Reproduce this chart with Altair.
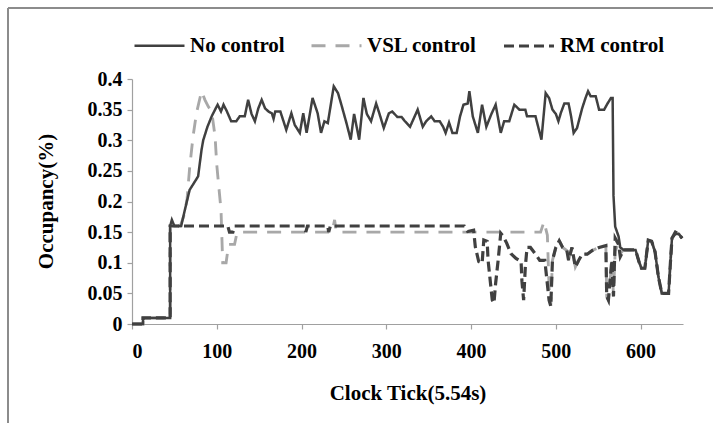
import altair as alt
import pandas as pd

# ---- data ----
nc_x = [0, 13, 13, 45, 45, 47, 50, 58, 63, 68, 73, 78, 82, 84, 89, 94, 98, 101, 105, 108, 112, 117, 123, 127,
        133, 137, 141, 145, 149, 153, 157, 161, 165, 167, 169, 175, 182, 188, 192, 198, 202, 206, 213, 219,
        223, 227, 231, 238, 243, 247, 253, 258, 262, 268, 273, 277, 282, 288, 292, 297, 303, 307, 313, 318,
        322, 328, 337, 343, 347, 353, 357, 363, 367, 370, 374, 378, 383, 387, 391, 396, 398, 402, 408, 413,
        418, 424, 429, 435, 439, 445, 451, 457, 464, 466, 476, 483, 488, 492, 496, 500, 503, 506, 510, 515,
        518, 521, 525, 531, 535, 538, 541, 547, 551, 557, 561, 565, 567, 568, 570, 574, 576, 580, 586, 594,
        598, 601, 605, 609, 613, 617, 621, 625, 633, 635, 637, 641, 645, 649]
nc_y = [0, 0, 0.01, 0.01, 0.16, 0.17, 0.16, 0.16, 0.19, 0.219, 0.23, 0.241, 0.284, 0.30, 0.322, 0.339, 0.35,
        0.358, 0.347, 0.358, 0.347, 0.331, 0.331, 0.339, 0.339, 0.366, 0.343, 0.331, 0.352, 0.366, 0.352,
        0.347, 0.344, 0.335, 0.347, 0.347, 0.317, 0.344, 0.325, 0.312, 0.344, 0.312, 0.369, 0.344, 0.312,
        0.331, 0.328, 0.388, 0.377, 0.358, 0.328, 0.301, 0.343, 0.301, 0.369, 0.343, 0.331, 0.36, 0.343,
        0.32, 0.344, 0.347, 0.338, 0.338, 0.331, 0.322, 0.35, 0.322, 0.331, 0.339, 0.331, 0.331, 0.322,
        0.312, 0.329, 0.312, 0.312, 0.339, 0.358, 0.36, 0.38, 0.339, 0.312, 0.358, 0.322, 0.343, 0.358,
        0.312, 0.331, 0.331, 0.358, 0.35, 0.35, 0.339, 0.339, 0.301, 0.377, 0.369, 0.35, 0.343, 0.331,
        0.345, 0.36, 0.36, 0.339, 0.312, 0.32, 0.352, 0.369, 0.38, 0.372, 0.372, 0.35, 0.35, 0.36, 0.369,
        0.369, 0.21, 0.159, 0.143, 0.125, 0.121, 0.121, 0.121, 0.102, 0.091, 0.091, 0.137, 0.135, 0.118,
        0.077, 0.05, 0.05, 0.097, 0.14, 0.147, 0.147, 0.14]

vsl_x = [0, 13, 13, 45, 45, 57, 62, 65, 68, 72, 76, 82, 86, 90, 94, 98, 100, 102, 105, 107, 111, 114, 121,
         124, 236, 239, 241, 482, 486, 490, 492, 494, 496, 500, 504, 508, 513, 515, 519, 523, 527, 531, 537,
         543, 551, 559, 560, 562, 566, 568, 570, 574, 576, 580, 586, 594, 598, 601, 605, 609, 613, 617, 621,
         625, 633, 635, 637, 641, 645, 649]
vsl_y = [0, 0, 0.01, 0.01, 0.16, 0.16, 0.18, 0.205, 0.255, 0.306, 0.344, 0.38, 0.366, 0.355, 0.347, 0.306,
         0.26, 0.23, 0.186, 0.1, 0.1, 0.13, 0.13, 0.15, 0.15, 0.17, 0.15, 0.15, 0.167, 0.145, 0.06, 0.03,
         0.104, 0.125, 0.136, 0.125, 0.12, 0.104, 0.125, 0.093, 0.104, 0.114, 0.114, 0.12, 0.125, 0.128,
         0.045, 0.039, 0.104, 0.045, 0.12, 0.13, 0.115, 0.121, 0.121, 0.121, 0.102, 0.091, 0.091, 0.137,
         0.135, 0.118, 0.077, 0.05, 0.05, 0.097, 0.14, 0.15, 0.147, 0.14]

rm_x = [0, 13, 13, 45, 45, 113, 115, 119, 121, 204, 205, 207, 231, 232, 234, 392, 396, 403, 405, 409, 413,
        415, 419, 420, 425, 427, 429, 432, 435, 438, 442, 447, 453, 459, 460, 462, 464, 466, 470, 476, 481,
        487, 492, 494, 496, 500, 504, 508, 513, 515, 519, 523, 527, 531, 537, 543, 551, 559, 560, 562, 566,
        568, 570, 574, 576, 580, 586, 594, 598, 601, 605, 609, 613, 617, 621, 625, 633, 635, 637, 641, 645,
        649]
rm_y = [0, 0, 0.01, 0.01, 0.16, 0.16, 0.15, 0.15, 0.16, 0.16, 0.15, 0.16, 0.16, 0.15, 0.16, 0.16, 0.151,
        0.153, 0.126, 0.102, 0.099, 0.137, 0.135, 0.105, 0.039, 0.034, 0.067, 0.105, 0.148, 0.143, 0.132,
        0.115, 0.107, 0.102, 0.07, 0.039, 0.093, 0.125, 0.125, 0.114, 0.104, 0.104, 0.039, 0.029, 0.104,
        0.125, 0.136, 0.125, 0.12, 0.104, 0.125, 0.093, 0.104, 0.114, 0.114, 0.12, 0.125, 0.128, 0.045,
        0.039, 0.104, 0.045, 0.14, 0.13, 0.11, 0.121, 0.121, 0.121, 0.102, 0.091, 0.091, 0.137, 0.135,
        0.118, 0.077, 0.05, 0.05, 0.097, 0.14, 0.15, 0.147, 0.14]

series_names = ["No control", "VSL control", "RM control"]
series_colors = ["#404040", "#a8a8a8", "#404040"]
series_dash = [[1, 0], [14, 10], [10, 5]]
series_width = [2.5, 3.2, 3.2]

x_ticks = [0, 100, 200, 300, 400, 500, 600]
y_ticks = [0, 0.05, 0.1, 0.15, 0.2, 0.25, 0.3, 0.35, 0.4]

rows = []
for name, xs, ys in [("VSL control", vsl_x, vsl_y), ("RM control", rm_x, rm_y), ("No control", nc_x, nc_y)]:
    for i, (a, b) in enumerate(zip(xs, ys)):
        rows.append({"series": name, "i": i, "tick": a, "occ": b})
df = pd.DataFrame(rows)

FONT = "Liberation Serif"

x_enc = alt.X("tick:Q", scale=alt.Scale(domain=[0, 650], nice=False),
              axis=alt.Axis(values=x_ticks, title="Clock Tick(5.54s)", grid=False, labelPadding=12,
                            titleY=75, titleBaseline="alphabetic"))
y_enc = alt.Y("occ:Q", scale=alt.Scale(domain=[0, 0.4], nice=False),
              axis=alt.Axis(values=y_ticks, title="Occupancy(%)", grid=False, format="~g",
                            titleX=-80, titleY=122, titleAngle=-90, titleAlign="center",
                            titleBaseline="alphabetic"))

legend_kw = dict(title=None, orient="none", direction="horizontal",
                 legendX=1, legendY=-60, symbolType="stroke",
                 symbolSize=2500, symbolStrokeWidth=3,
                 labelFont=FONT, labelFontSize=21, labelFontWeight="bold",
                 labelColor="#000000", labelOffset=4, columnPadding=20)

lines = alt.Chart(df).mark_line(interpolate="linear").encode(
    x=x_enc,
    y=y_enc,
    order="i:Q",
    color=alt.Color("series:N", scale=alt.Scale(domain=series_names, range=series_colors),
                    legend=alt.Legend(**legend_kw)),
    strokeDash=alt.StrokeDash("series:N", scale=alt.Scale(domain=series_names, range=series_dash),
                              legend=alt.Legend(**legend_kw)),
    strokeWidth=alt.StrokeWidth("series:N", scale=alt.Scale(domain=series_names, range=series_width),
                                legend=None),
)

border_left = alt.Chart(df).mark_rule(color="#8c8c8c", strokeWidth=2).encode(
    x=alt.value(-124), y=alt.value(-71), y2=alt.value(400))
border_top = alt.Chart(df).mark_rule(color="#8c8c8c", strokeWidth=2).encode(
    x=alt.value(-124), x2=alt.value(600), y=alt.value(-71))

chart = alt.layer(border_left, border_top, lines).properties(
    width=551, height=245,
    autosize=alt.AutoSizeParams(type="none"),
    padding={"left": 132, "top": 79, "right": 30, "bottom": 99},
    background="#ffffff",
).configure_view(stroke=None).configure_axis(
    labelFont=FONT, labelFontSize=20, labelFontWeight="bold", labelColor="#000000",
    titleFont=FONT, titleFontSize=21, titleFontWeight="bold", titleColor="#000000",
    domainColor="#a0a0a0", tickColor="#a0a0a0", tickSize=5, domainWidth=1.2, tickWidth=1.2,
    labelPadding=5,
)

chart.save("out.html", embed_options={"renderer": "svg", "actions": False})
